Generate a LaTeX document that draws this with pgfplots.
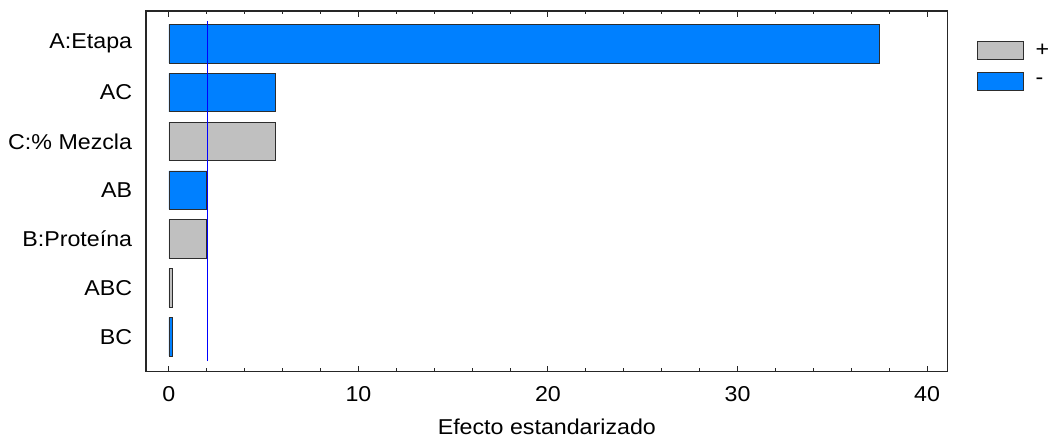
\documentclass[border=0pt]{standalone}
\usepackage{fontspec}
\setmainfont{Liberation Sans}[FakeStretch=1.08]
\usepackage{pgfplots}
\pgfplotsset{compat=1.18}
\definecolor{barblue}{RGB}{0,128,255}
\definecolor{bargray}{RGB}{192,192,192}
\definecolor{edge}{RGB}{45,45,45}
\definecolor{critline}{RGB}{0,0,255}
\begin{document}
\begin{tikzpicture}
\path[use as bounding box] (-146pt,-67.3pt) rectangle (908pt,371.7pt);
\begin{axis}[
  at={(0pt,0pt)}, anchor=south west,
  scale only axis, width=801.7pt, height=360.7pt,
  xmin=-1.21, xmax=41.09, ymin=-0.717, ymax=6.67,
  xtick={0,10,20,30,40}, minor x tick num=4,
  ytick={0,1,2,3,4,5,6},
  yticklabels={BC,ABC,B:Proteína,AB,C:\% Mezcla,AC,A:Etapa},
  major y tick style={draw=none},
  tick align=inside, major tick length=6pt, minor tick length=3.5pt,
  tick style={line width=1pt, black!85},
  axis line style={line width=1.3pt, black!85},
  /pgf/number format/assume math mode=true,
  xticklabel style={font=\fontsize{21.5}{24}\selectfont, anchor=north, inner sep=0pt, yshift=-15pt},
  yticklabel style={font=\fontsize{21.5}{24}\selectfont, anchor=east, inner sep=0pt, xshift=-13.7pt},
  xlabel={Efecto estandarizado},
  xlabel style={font=\fontsize{21.5}{24}\selectfont, at={(axis description cs:0.5,0)}, anchor=base, yshift=-62.6pt},
  legend style={at={(1.036,0.916)}, anchor=north west, draw=none, fill=none,
    inner sep=0pt, row sep=12pt, font=\fontsize{21.5}{24}\selectfont,
    nodes={inner sep=2pt}},
  legend image code/.code={\draw[#1, line width=0.8pt] (0pt,-9pt) rectangle (46pt,9pt);},
  legend cell align=left,
]
\addplot[xbar, bar width=0.79, bar shift=0pt, fill=bargray, draw=edge, line width=0.8pt]
  coordinates {(5.63,4) (2.00,2) (0.18,1)};
\addlegendentry{\hspace{10pt}+}
\addplot[xbar, bar width=0.79, bar shift=0pt, fill=barblue, draw=edge, line width=0.8pt]
  coordinates {(37.48,6) (5.63,5) (2.00,3) (0.18,0)};
\addlegendentry{\hspace{10pt}-}
\addplot[forget plot, critline, line width=1pt] coordinates {(2.04,-0.5) (2.04,6.47)};
\end{axis}
\end{tikzpicture}
\end{document}
